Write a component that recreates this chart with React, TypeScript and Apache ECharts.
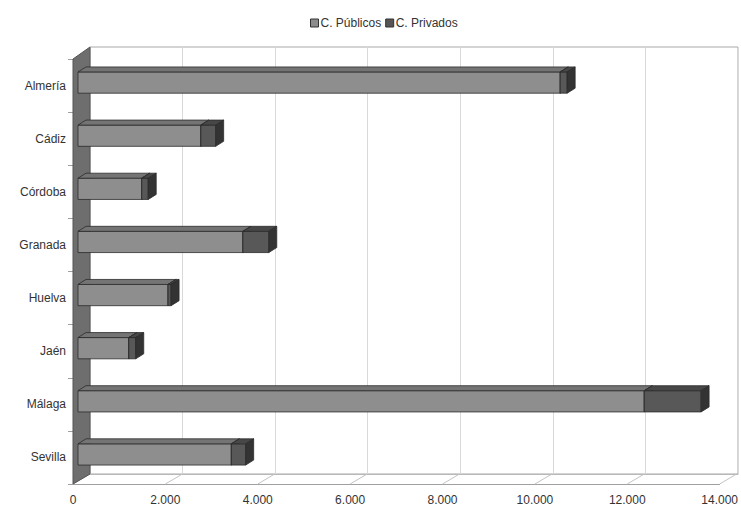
import React, { useEffect, useRef } from "react";
import * as echarts from "echarts";

const categories = ["Almería", "Cádiz", "Córdoba", "Granada", "Huelva", "Jaén", "Málaga", "Sevilla"];
const publicos = [10440, 2660, 1380, 3570, 1950, 1100, 12260, 3320];
const privados = [150, 320, 140, 560, 65, 150, 1230, 310];
const xMax = 14000;
const xInterval = 2000;
const xTickValues = [0, 2000, 4000, 6000, 8000, 10000, 12000, 14000];

const FRONT = { left: 73, top: 59, right: 20, bottom: 23 };
const DEPTH = { dx: 17, dy: -10 };
const BAR = { ox: 5, oy: -3, dx: 8, dy: -5, h: 0.4 };

const fmt = (v: number) => String(v).replace(/\B(?=(\d{3})+(?!\d))/g, ".");

function boxRenderer(front: string, top: string, side: string) {
  return (params: any, api: any) => {
    const s = api.value(0);
    const e = api.value(1);
    const c = api.value(2);
    const p0 = api.coord([s, c]);
    const p1 = api.coord([e, c]);
    const band = api.size([0, 1])[1];
    const h = band * BAR.h;
    const x0 = p0[0] + BAR.ox;
    const x1 = p1[0] + BAR.ox;
    const yc = p0[1] + BAR.oy;
    const yt = yc - h / 2;
    const yb = yc + h / 2;
    const stroke = { stroke: "#2b2b2b", lineWidth: 0.8 };
    return {
      type: "group",
      children: [
        { type: "polygon", shape: { points: [[x0, yt], [x1, yt], [x1, yb], [x0, yb]] }, style: { fill: front, ...stroke } },
        { type: "polygon", shape: { points: [[x0, yt], [x0 + BAR.dx, yt + BAR.dy], [x1 + BAR.dx, yt + BAR.dy], [x1, yt]] }, style: { fill: top, ...stroke } },
        { type: "polygon", shape: { points: [[x1, yt], [x1 + BAR.dx, yt + BAR.dy], [x1 + BAR.dx, yb + BAR.dy], [x1, yb]] }, style: { fill: side, ...stroke } },
      ],
    };
  };
}

export default function App() {
  const ref = useRef<HTMLDivElement>(null);
  useEffect(() => {
    if (!ref.current) return;
    const chart = echarts.init(ref.current, undefined, { renderer: "svg" });
    const last = categories.length - 1;
    const pubData = publicos.map((v, i) => [0, v, i]);
    const privData = privados.map((v, i) => [publicos[i], publicos[i] + v, i]);
    chart.setOption({
      animation: false,
      backgroundColor: "#ffffff",
      textStyle: { fontFamily: "Liberation Sans, Arial, sans-serif" },
      legend: {
        top: 12,
        left: 305,
        itemWidth: 8,
        itemHeight: 8,
        itemGap: 4,
        icon: "rect",
        itemStyle: { borderColor: "#333", borderWidth: 1 },
        textStyle: { fontSize: 12, color: "#333", padding: [0, 0, 0, -3] },
        data: ["C. Públicos", "C. Privados"],
      },
      grid: [
        { left: FRONT.left, top: FRONT.top, right: FRONT.right, bottom: FRONT.bottom },
        {
          left: FRONT.left + DEPTH.dx,
          top: FRONT.top + DEPTH.dy - 2,
          right: FRONT.right - DEPTH.dx,
          bottom: FRONT.bottom - DEPTH.dy,
          show: true,
          borderColor: "#a8a8a8",
          borderWidth: 1,
          z: 0,
        },
      ],
      xAxis: [
        {
          gridIndex: 0,
          type: "value",
          min: 0,
          max: xMax,
          interval: xInterval,
          axisLine: { show: true, lineStyle: { color: "#a0a0a0" } },
          axisTick: { show: false },
          splitLine: { show: false },
          axisLabel: { fontSize: 12, color: "#333", margin: 10, formatter: fmt },
        },
        {
          gridIndex: 1,
          type: "value",
          min: 0,
          max: xMax,
          interval: xInterval,
          axisLine: { show: true, lineStyle: { color: "#b8b8b8" } },
          axisTick: { show: false },
          axisLabel: { show: false },
          splitLine: { show: true, lineStyle: { color: "#d9d9d9" } },
        },
      ],
      yAxis: [
        {
          gridIndex: 0,
          type: "category",
          inverse: true,
          data: categories,
          axisLine: { show: false },
          axisTick: { show: true, length: 5, lineStyle: { color: "#a0a0a0" } },
          axisLabel: { fontSize: 12, color: "#333", margin: 7, padding: [3, 0, 0, 0] },
          splitLine: { show: false },
        },
        {
          gridIndex: 1,
          type: "category",
          inverse: true,
          data: categories,
          show: false,
        },
      ],
      series: [
        {
          type: "custom",
          name: "floor",
          silent: true,
          xAxisIndex: 0,
          yAxisIndex: 0,
          clip: false,
          z: 1,
          data: xTickValues.map((v) => [v, last]),
          renderItem: (params: any, api: any) => {
            const p = api.coord([api.value(0), api.value(1)]);
            const band = api.size([0, 1])[1];
            const y = p[1] + band / 2;
            return {
              type: "line",
              shape: { x1: p[0], y1: y, x2: p[0] + DEPTH.dx, y2: y + DEPTH.dy },
              style: { stroke: "#c4c4c4", lineWidth: 1 },
            };
          },
        },
        {
          type: "custom",
          name: "wall",
          silent: true,
          xAxisIndex: 0,
          yAxisIndex: 0,
          clip: false,
          z: 2,
          data: [[0, 0, last]],
          renderItem: (params: any, api: any) => {
            const pt = api.coord([api.value(0), api.value(1)]);
            const pb = api.coord([api.value(0), api.value(2)]);
            const band = api.size([0, 1])[1];
            const yt = pt[1] - band / 2;
            const yb = pb[1] + band / 2;
            const x = pt[0];
            return {
              type: "polygon",
              shape: { points: [[x, yt], [x + DEPTH.dx, yt + DEPTH.dy - 2], [x + DEPTH.dx, yb + DEPTH.dy], [x, yb]] },
              style: { fill: "#6e6e6e", stroke: "#555", lineWidth: 1 },
            };
          },
        },
        {
          type: "custom",
          name: "C. Públicos",
          xAxisIndex: 0,
          yAxisIndex: 0,
          clip: false,
          z: 3,
          itemStyle: { color: "#8c8c8c", borderColor: "#333" },
          encode: { x: [0, 1], y: 2 },
          data: pubData,
          renderItem: boxRenderer("#8e8e8e", "#747474", "#4a4a4a"),
        },
        {
          type: "custom",
          name: "C. Privados",
          xAxisIndex: 0,
          yAxisIndex: 0,
          clip: false,
          z: 4,
          itemStyle: { color: "#555555", borderColor: "#333" },
          encode: { x: [0, 1], y: 2 },
          data: privData,
          renderItem: boxRenderer("#585858", "#474747", "#333333"),
        },
      ],
    });
    return () => chart.dispose();
  }, []);
  return <div ref={ref} style={{ width: 741, height: 507, position: "absolute", left: 0, top: 0 }} />;
}
